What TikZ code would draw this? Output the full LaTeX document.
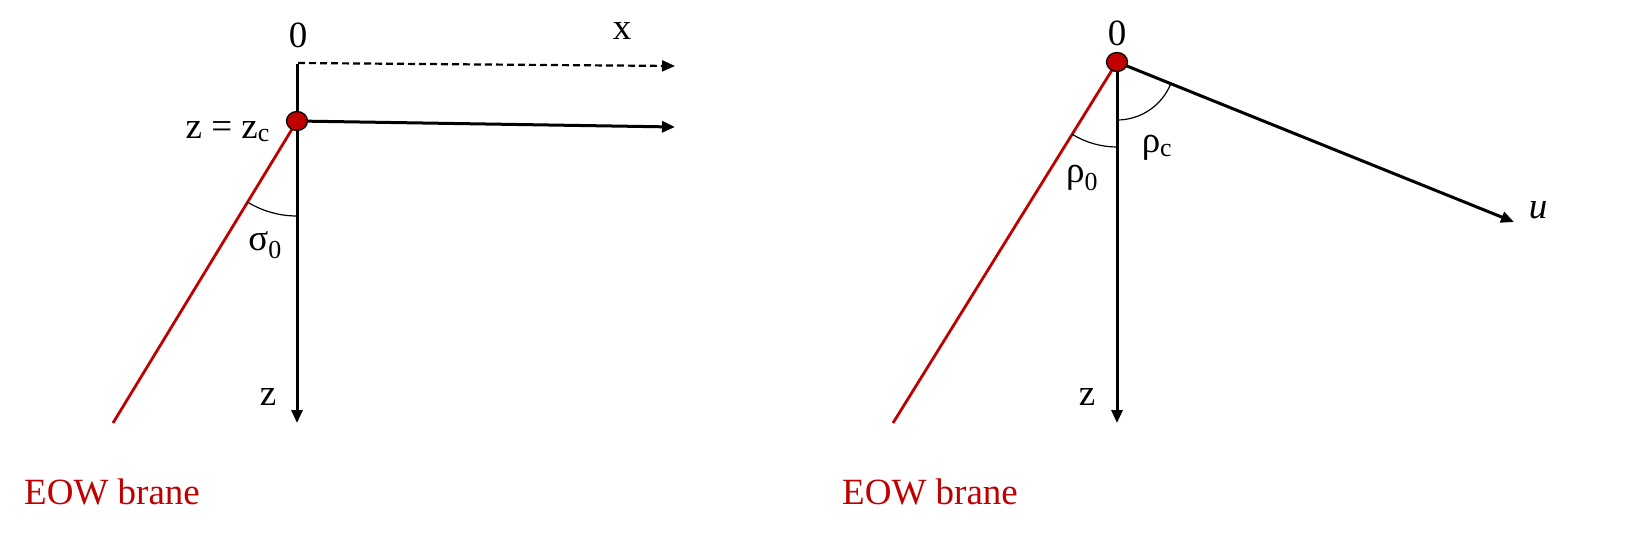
\documentclass[tikz,border=0pt]{standalone}
\usepackage{fontspec}
\setmainfont{Liberation Serif}
\usetikzlibrary{arrows.meta,shapes.geometric}
\definecolor{brane}{HTML}{C00000}
\begin{document}
\begin{tikzpicture}[x=1pt,y=1pt,
  lbl/.style={font=\fontsize{37}{44}\selectfont, inner sep=0pt},
  redlbl/.style={lbl, text=brane},
  axis/.style={line width=3pt, -{Triangle[length=13pt,width=11pt]}},
  plain/.style={line width=3pt},
  dashaxis/.style={line width=2.2pt, dash pattern=on 7pt off 4pt, -{Triangle[length=13pt,width=11pt]}},
  branel/.style={line width=2.8pt, draw=brane},
  anglearc/.style={line width=1.2pt},
  dotnode/.style={ellipse, minimum width=21pt, minimum height=19pt, inner sep=0pt, fill=brane, draw=black, line width=1.3pt}
]
\useasboundingbox (0,0) rectangle (1631,-558);
% ---------- left diagram ----------
\coordinate (topL) at (297,-64);
\coordinate (dotLc) at (297,-121);
\coordinate (botL) at (297,-423);
\coordinate (dashEnd) at (675,-66);
\coordinate (dashStart) at (298,-63);
\coordinate (xEnd) at (675,-127);
\coordinate (braneL) at (113,-423);
\draw[dashaxis] (dashStart) -- (dashEnd);
\draw[plain] (topL) -- (dotLc);
\draw[axis] (dotLc) -- (botL);
\draw[branel] (dotLc) -- (braneL);
\draw[axis] (dotLc) -- (xEnd);
\draw[anglearc] (dotLc) ++(238.6:95) arc[start angle=238.6, end angle=270, radius=95];
\node[dotnode] (dotL) at (dotLc) {};
\node[lbl] (zeroL) at (298,-35) {0};
\node[lbl] (xL) at (622,-31) {x};
\node[lbl, anchor=base east] (zc) at (270,-138) {z = z\textsubscript{c}};
\node[lbl] (sig) at (265,-245) {σ\textsubscript{0}};
\node[lbl] (zL) at (268,-397) {z};
\node[redlbl, anchor=base west] (eowL) at (24,-504) {EOW brane};
% ---------- right diagram ----------
\coordinate (dotRc) at (1117,-62);
\coordinate (botR) at (1117,-423);
\coordinate (braneR) at (893,-423);
\coordinate (uEnd) at (1514,-222);
\draw[axis] (dotRc) -- (botR);
\draw[branel] (dotRc) -- (braneR);
\draw[axis] (dotRc) -- (uEnd);
\draw[anglearc] (dotRc) ++(238.2:85) arc[start angle=238.2, end angle=270, radius=85];
\draw[anglearc] (dotRc) ++(270:58) arc[start angle=270, end angle=338.1, radius=58];
\node[dotnode] (dotR) at (dotRc) {};
\node[lbl] (zeroR) at (1117,-33) {0};
\node[lbl] (rhoc) at (1157,-148) {ρ\textsubscript{c}};
\node[lbl] (rho0) at (1082,-178) {ρ\textsubscript{0}};
\node[lbl] (uR) at (1538,-210) {\textit{u}};
\node[lbl] (zR) at (1087,-397) {z};
\node[redlbl, anchor=base west] (eowR) at (842,-504) {EOW brane};
\end{tikzpicture}
\end{document}
